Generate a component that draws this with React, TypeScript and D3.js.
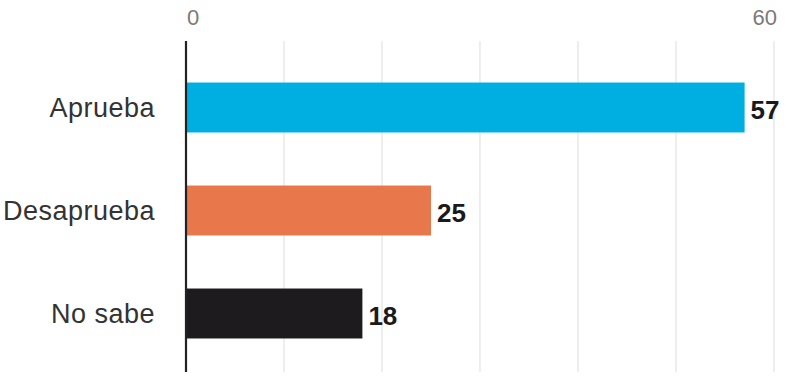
import React from "react";
import * as d3 from "d3";

const categories = ["Aprueba", "Desaprueba", "No sabe"];
const values = [57, 25, 18];
const colors = ["#00AFE2", "#E8774C", "#1D1B1E"];
const gridTicks = [0, 10, 20, 30, 40, 50, 60];
const labeledTicks = [0, 60];

const W = 800;
const H = 383;

export default function App() {
  const x = d3.scaleLinear().domain([0, 60]).range([186, 774]);
  const y = d3
    .scaleBand<string>()
    .domain(categories)
    .range([56, 365])
    .paddingInner(0.515)
    .paddingOuter(0.2575);

  const font = "'Liberation Sans', Arial, sans-serif";

  return (
    <svg
      width={W}
      height={H}
      style={{ position: "absolute", left: 0, top: 0, background: "#fff" }}
    >
      {gridTicks.map((t) =>
        t === 0 ? null : (
          <line
            key={t}
            x1={x(t)}
            x2={x(t)}
            y1={41}
            y2={372}
            stroke="#e2e2e2"
            strokeWidth={1.2}
          />
        )
      )}
      {labeledTicks.map((t, i) => (
        <text
          key={t}
          x={i === 0 ? x(t) + 1 : x(t) + 3}
          y={25}
          textAnchor={i === 0 ? "start" : "end"}
          fontFamily={font}
          fontSize={22}
          fill="#7a7a7a"
        >
          {t}
        </text>
      ))}
      {categories.map((c, i) => {
        const yy = y(c)!;
        const bw = y.bandwidth();
        return (
          <g key={c}>
            <rect
              x={x(0)}
              y={yy}
              width={x(values[i]) - x(0)}
              height={bw}
              fill={colors[i]}
            />
            <text
              x={x(0) - 31}
              y={yy + bw / 2}
              dy="0.35em"
              textAnchor="end"
              fontFamily={font}
              fontSize={27}
              letterSpacing={0.5}
              fill="#333"
            >
              {c}
            </text>
            <text
              x={x(values[i]) + 6}
              y={yy + bw / 2 + 2}
              dy="0.35em"
              textAnchor="start"
              fontFamily={font}
              fontWeight="bold"
              fontSize={26}
              fill="#1a1a1a"
            >
              {values[i]}
            </text>
          </g>
        );
      })}
      <line
        x1={x(0)}
        x2={x(0)}
        y1={41}
        y2={372}
        stroke="#222"
        strokeWidth={2.2}
      />
    </svg>
  );
}
